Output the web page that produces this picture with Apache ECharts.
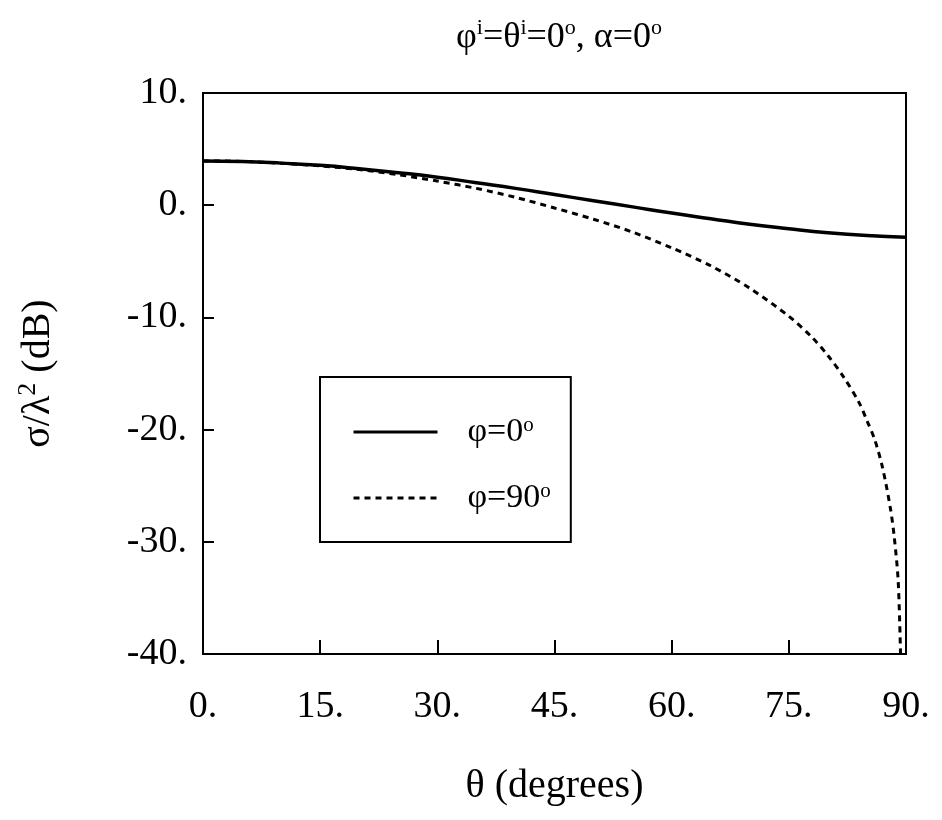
<!DOCTYPE html>
<html>
<head>
<meta charset="utf-8">
<script src="https://cdn.jsdelivr.net/npm/echarts@6/dist/echarts.min.js"></script>
<style>html,body{margin:0;padding:0;background:#fff;}#c{width:942px;height:820px;}</style>
</head>
<body>
<div id="c"></div>
<script>
// ---- data ----
var theta0 = [0, 5, 10, 15, 20, 25, 30, 35, 40, 45, 50, 55, 60, 65, 70, 75, 80, 85, 90];
var sigma0 = [3.95, 3.9, 3.75, 3.55, 3.25, 2.9, 2.5, 2.0, 1.5, 0.95, 0.4, -0.15, -0.7, -1.2, -1.7, -2.1, -2.45, -2.7, -2.85];
var theta90 = [0, 5, 10, 15, 20, 25, 30, 35, 40, 45, 50, 55, 60, 65, 70, 75, 78, 80, 82, 84, 85, 86, 87, 88, 88.5, 89, 89.3];
var sigma90 = [3.95, 3.9, 3.74, 3.5, 3.18, 2.72, 2.15, 1.5, 0.7, -0.25, -1.25, -2.4, -3.8, -5.4, -7.4, -9.9, -11.8, -13.4, -15.3, -17.6, -19.2, -20.9, -23.4, -27.0, -29.6, -33.5, -40];
var seriesNames = ['φ=0', 'φ=90'];
var xTicks = [0, 15, 30, 45, 60, 75, 90];
var yTicks = [10, 0, -10, -20, -30, -40];

function pairs(xs, ys) { return xs.map(function (x, i) { return [x, ys[i]]; }); }

var FF = 'Liberation Serif';
var chart = echarts.init(document.getElementById('c'), null, { renderer: 'canvas' });
chart.setOption({
  backgroundColor: '#fff',
  animation: false,
  title: {
    text: '{a|φ}{s|i}{a|=θ}{s|i}{a|=0}{s|o}{a|, α=0}{s|o}',
    left: 554, textAlign: 'center', top: 12,
    textStyle: {
      fontFamily: FF, fontSize: 36, fontWeight: 'normal', color: '#000',
      rich: {
        a: { fontFamily: FF, fontSize: 36, fontWeight: 'normal', lineHeight: 42, color: '#000' },
        s: { fontFamily: FF, fontSize: 22, fontWeight: 'normal', lineHeight: 22, verticalAlign: 'top', color: '#000' }
      }
    }
  },
  legend: {
    orient: 'vertical', left: 320, top: 377,
    padding: [38, 20, 27, 32],
    borderColor: '#000', borderWidth: 2,
    itemWidth: 84, itemHeight: 14, itemGap: 32,
    data: seriesNames,
    itemStyle: { opacity: 0 },
    lineStyle: { width: 3 },
    formatter: function (n) { return '{g|}{a|' + n + '}{s|o}'; },
    textStyle: {
      fontFamily: FF, fontSize: 34, color: '#000', lineHeight: 34,
      rich: {
        g: { width: 25 },
        a: { fontFamily: FF, fontSize: 34, lineHeight: 34, color: '#000' },
        s: { fontFamily: FF, fontSize: 21, lineHeight: 21, verticalAlign: 'top', color: '#000' }
      }
    }
  },
  grid: { left: 203, top: 93, right: 36, bottom: 166, show: true, borderColor: '#000', borderWidth: 2, containLabel: false },
  xAxis: {
    type: 'value', min: xTicks[0], max: xTicks[xTicks.length - 1], interval: 15,
    name: 'θ (degrees)', nameLocation: 'middle', nameGap: 112,
    nameTextStyle: { fontFamily: FF, fontSize: 40, color: '#000' },
    axisLine: { onZero: false, lineStyle: { color: '#000', width: 2 } },
    axisTick: { inside: true, length: 14, lineStyle: { color: '#000', width: 2 } },
    axisLabel: { margin: 34, fontFamily: FF, fontSize: 38, color: '#000', formatter: function (v) { return v + '.'; } },
    splitLine: { show: false }
  },
  yAxis: {
    type: 'value', min: yTicks[yTicks.length - 1], max: yTicks[0], interval: 10,
    name: '{a|σ/λ}{s|2}{a| (dB)}', nameLocation: 'middle', nameGap: 142, nameRotate: 90,
    nameTextStyle: {
      rich: {
        a: { fontFamily: FF, fontSize: 40, lineHeight: 46, color: '#000' },
        s: { fontFamily: FF, fontSize: 26, lineHeight: 26, verticalAlign: 'top', color: '#000' }
      }
    },
    axisLine: { onZero: false, lineStyle: { color: '#000', width: 2 } },
    axisTick: { inside: true, length: 11, lineStyle: { color: '#000', width: 2 } },
    axisLabel: { margin: 16, fontFamily: FF, fontSize: 38, color: '#000', formatter: function (v) { return v + '.'; } },
    splitLine: { show: false }
  },
  series: [
    { name: seriesNames[0], type: 'line', data: pairs(theta0, sigma0), smooth: true, symbol: 'none',
      lineStyle: { color: '#000', width: 3.5, type: 'solid' }, itemStyle: { color: '#000' } },
    { name: seriesNames[1], type: 'line', data: pairs(theta90, sigma90), smooth: 0.3, symbol: 'none',
      lineStyle: { color: '#000', width: 3, type: [6, 5] }, itemStyle: { color: '#000' } }
  ]
});
</script>
</body>
</html>
